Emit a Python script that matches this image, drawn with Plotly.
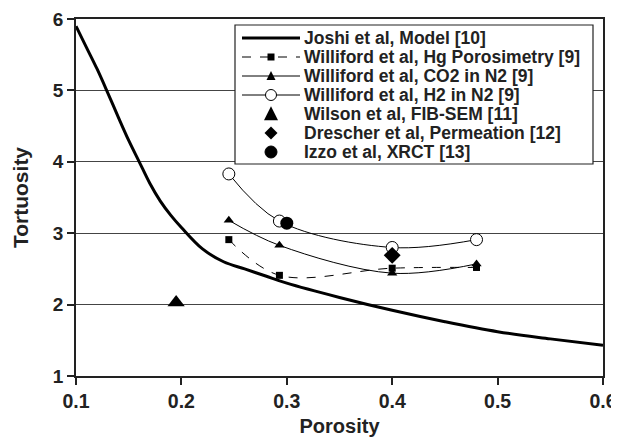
import plotly.graph_objects as go

# Joshi et al model curve
joshi_x = [0.10, 0.11, 0.12, 0.13, 0.14, 0.15, 0.16, 0.17, 0.18, 0.19, 0.20, 0.22, 0.24,
           0.26, 0.28, 0.30, 0.35, 0.40, 0.45, 0.50, 0.55, 0.60]
joshi_y = [5.90, 5.60, 5.30, 4.97, 4.63, 4.30, 4.00, 3.70, 3.45, 3.25, 3.08, 2.78, 2.60,
           2.50, 2.40, 2.30, 2.10, 1.92, 1.76, 1.62, 1.52, 1.43]

# Williford et al series
will_x = [0.245, 0.293, 0.40, 0.48]
hg_y = [2.91, 2.41, 2.51, 2.52]
co2_y = [3.18, 2.83, 2.44, 2.57]
h2_y = [3.83, 3.17, 2.80, 2.91]

# Single points
wilson_x = [0.195]
wilson_y = [2.03]
drescher_x = [0.40]
drescher_y = [2.69]
izzo_x = [0.30]
izzo_y = [3.14]

# Tick labels
x_ticks = [0.1, 0.2, 0.3, 0.4, 0.5, 0.6]
x_ticklabels = ["0.1", "0.2", "0.3", "0.4", "0.5", "0.6"]
y_ticks = [1, 2, 3, 4, 5, 6]
y_ticklabels = ["1", "2", "3", "4", "5", "6"]

names = ["Joshi et al, Model [10]",
         "Williford et al, Hg Porosimetry [9]",
         "Williford et al, CO2 in N2 [9]",
         "Williford et al, H2 in N2 [9]",
         "Wilson et al, FIB-SEM [11]",
         "Drescher et al, Permeation [12]",
         "Izzo et al, XRCT [13]"]

FONT = "Liberation Sans, Arial, sans-serif"
INK = "#222"


def b(t):
    return "<b>%s</b>" % t


fig = go.Figure()
fig.add_trace(go.Scatter(x=joshi_x, y=joshi_y, mode="lines", name=names[0],
                         line=dict(color="black", width=3, shape="spline")))
fig.add_trace(go.Scatter(x=will_x, y=hg_y, mode="lines+markers", name=names[1],
                         line=dict(color="black", width=1, dash="dash", shape="spline"),
                         marker=dict(symbol="square", size=7, color="black")))
fig.add_trace(go.Scatter(x=will_x, y=co2_y, mode="lines+markers", name=names[2],
                         line=dict(color="black", width=1, shape="spline"),
                         marker=dict(symbol="triangle-up", size=9, color="black")))
fig.add_trace(go.Scatter(x=will_x, y=h2_y, mode="lines+markers", name=names[3],
                         line=dict(color="black", width=1, shape="spline"),
                         marker=dict(symbol="circle", size=12, color="white",
                                     line=dict(width=1, color="black"))))
fig.add_trace(go.Scatter(x=wilson_x, y=wilson_y, mode="markers", name=names[4],
                         marker=dict(symbol="triangle-up", size=15, color="black")))
fig.add_trace(go.Scatter(x=drescher_x, y=drescher_y, mode="markers", name=names[5],
                         marker=dict(symbol="diamond", size=13, color="black")))
fig.add_trace(go.Scatter(x=izzo_x, y=izzo_y, mode="markers", name=names[6],
                         marker=dict(symbol="circle", size=13, color="black")))

# ---- hand-built legend (pixel layout converted to paper coordinates) ----
PLOT_L, PLOT_R, PLOT_T, PLOT_B = 76, 603, 19, 376   # page pixels of the plot area


def px(x):
    return (x - PLOT_L) / (PLOT_R - PLOT_L)


def py(y):
    return (PLOT_B - y) / (PLOT_B - PLOT_T)


shapes = []
annotations = []
box_l, box_r, box_t, box_b = 235, 593, 25, 164
shapes.append(dict(type="rect", xref="paper", yref="paper", layer="above",
                   x0=px(box_l), x1=px(box_r), y0=py(box_b), y1=py(box_t),
                   line=dict(color=INK, width=1.2), fillcolor="white"))
row0, step = 38, 19
line_l, line_r, mk_x, text_x = 242, 300, 271, 302
kinds = [("line", None, 3, "solid"),
         ("line", "square", 1, "dash"),
         ("line", "tri_s", 1, "solid"),
         ("line", "ocircle", 1, "solid"),
         (None, "tri_l", 0, None),
         (None, "diamond", 0, None),
         (None, "circle", 0, None)]


def path(points):
    pts = ["%s%.5f,%.5f" % ("M" if i == 0 else "L", px(a), py(c)) for i, (a, c) in enumerate(points)]
    return " ".join(pts) + " Z"


for i, (nm, kind) in enumerate(zip(names, kinds)):
    cy = row0 + i * step
    ln, mk, lw, dash = kind
    if ln:
        shapes.append(dict(type="line", xref="paper", yref="paper", layer="above",
                           x0=px(line_l), x1=px(line_r), y0=py(cy), y1=py(cy),
                           line=dict(color="black", width=lw, dash=dash)))
    if mk == "square":
        s = 3.5
        shapes.append(dict(type="rect", xref="paper", yref="paper", layer="above",
                           x0=px(mk_x - s), x1=px(mk_x + s), y0=py(cy + s), y1=py(cy - s),
                           line=dict(width=0), fillcolor="black"))
    elif mk in ("tri_s", "tri_l"):
        s = 9 if mk == "tri_s" else 14
        shapes.append(dict(type="path", xref="paper", yref="paper", layer="above",
                           path=path([(mk_x, cy - 0.55 * s), (mk_x - s / 2, cy + 0.45 * s),
                                      (mk_x + s / 2, cy + 0.45 * s)]),
                           line=dict(width=0), fillcolor="black"))
    elif mk == "diamond":
        s = 6.5
        shapes.append(dict(type="path", xref="paper", yref="paper", layer="above",
                           path=path([(mk_x, cy - s), (mk_x + s, cy), (mk_x, cy + s), (mk_x - s, cy)]),
                           line=dict(width=0), fillcolor="black"))
    elif mk in ("circle", "ocircle"):
        s = 6 if mk == "circle" else 5.5
        shapes.append(dict(type="circle", xref="paper", yref="paper", layer="above",
                           x0=px(mk_x - s), x1=px(mk_x + s), y0=py(cy + s), y1=py(cy - s),
                           line=dict(color="black", width=1),
                           fillcolor="black" if mk == "circle" else "white"))
    annotations.append(dict(text=b(nm), xref="paper", yref="paper", x=px(text_x), y=py(cy),
                            xanchor="left", yanchor="middle", showarrow=False,
                            font=dict(family=FONT, size=17.5, color=INK)))

# The page body has an 8px margin, so the figure is placed 8px in from the corner.
fig.update_layout(
    width=611, height=429,
    margin=dict(l=68, r=16, t=11, b=61, autoexpand=False),
    paper_bgcolor="white", plot_bgcolor="white",
    font=dict(family=FONT, color=INK, size=18),
    showlegend=False,
    shapes=shapes, annotations=annotations,
)
fig.update_xaxes(range=[0.1, 0.6], tickvals=x_ticks, ticktext=[b(t) for t in x_ticklabels],
                 showgrid=False, zeroline=False,
                 showline=True, linecolor=INK, linewidth=1.5, mirror=True,
                 ticks="outside", ticklen=7, tickcolor=INK, tickwidth=1.5,
                 tickfont=dict(size=19.5),
                 title=dict(text=b("Porosity"), font=dict(size=20), standoff=10))
fig.update_yaxes(range=[1, 6], tickvals=y_ticks, ticktext=[b(t) for t in y_ticklabels],
                 showgrid=True, gridcolor="#444", gridwidth=1.3, zeroline=False,
                 showline=True, linecolor=INK, linewidth=1.5, mirror=True,
                 ticks="outside", ticklen=7, tickcolor=INK, tickwidth=1.5,
                 tickfont=dict(size=19),
                 title=dict(text=b("Tortuosity"), font=dict(size=21), standoff=19))

fig.write_html("out.html")
